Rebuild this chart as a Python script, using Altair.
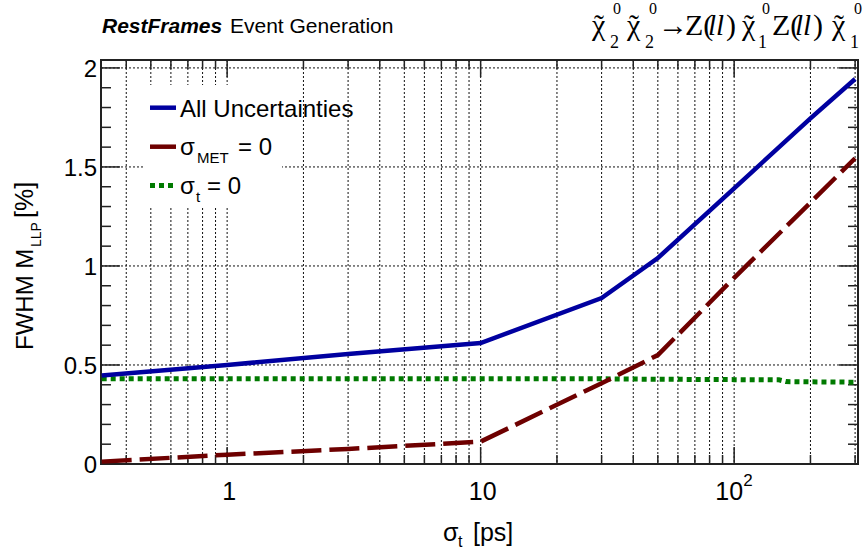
import altair as alt
import pandas as pd

# ---------------- data ----------------
x_all = [0.32, 1, 3, 10, 30, 50, 100, 200, 300]
y_all = [0.447, 0.500, 0.555, 0.611, 0.838, 1.040, 1.392, 1.745, 1.944]

x_met = [0.32, 1, 3, 10, 30, 50, 100, 200, 300]
y_met = [0.012, 0.047, 0.076, 0.113, 0.408, 0.550, 0.940, 1.320, 1.544]

x_t = [0.32, 1, 3, 10, 30, 50, 100, 150, 160, 200, 300]
y_t = [0.430, 0.430, 0.430, 0.430, 0.430, 0.428, 0.426, 0.425, 0.416, 0.415, 0.413]

x_grid = [0.4, 0.5, 0.6, 0.7, 0.8, 0.9, 1, 2, 3, 4, 5, 6, 7, 8, 9, 10,
          20, 30, 40, 50, 60, 70, 80, 90, 100, 200, 300]
x_major = [1, 10, 100]
x_minor = [v for v in x_grid if v not in x_major]
y_major = [0, 0.5, 1, 1.5, 2]
y_minor = [0.1, 0.2, 0.3, 0.4, 0.6, 0.7, 0.8, 0.9, 1.1, 1.2, 1.3, 1.4,
           1.6, 1.7, 1.8, 1.9]
y_grid = [0.5, 1, 1.5, 2]
y_labels = ["0", "0.5", "1", "1.5", "2"]

# ---------------- layout ----------------
W, H = 757, 404
SANS = "Liberation Sans"
SERIF = "Liberation Serif"
xs = alt.Scale(type="log", domain=[0.318, 308], nice=False)
ys = alt.Scale(domain=[0, 2.04], nice=False, zero=False)
X = lambda f="x": alt.X(f + ":Q", scale=xs, axis=None)
Y = lambda f="y": alt.Y(f + ":Q", scale=ys, axis=None)

one = pd.DataFrame({"a": [0]})


def txt(s, x, y, size=24, font=SANS, **kw):
    return alt.Chart(one).mark_text(
        text=s, font=font, fontSize=size, align=kw.pop("align", "left"),
        baseline=kw.pop("baseline", "alphabetic"), color=kw.pop("color", "black"), **kw
    ).encode(x=alt.value(x), y=alt.value(y))


layers = []

# grid
gx = pd.DataFrame({"x": x_grid})
gy = pd.DataFrame({"y": y_grid})
layers.append(alt.Chart(gx).mark_rule(color="#111", strokeWidth=1, strokeDash=[2, 2]).encode(
    x=X(), y=alt.value(0), y2=alt.value(H)))
layers.append(alt.Chart(gy).mark_rule(color="#111", strokeWidth=1, strokeDash=[2, 2]).encode(
    y=Y(), x=alt.value(0), x2=alt.value(W)))

# legend background box
layers.append(alt.Chart(one).mark_rect(color="white").encode(
    x=alt.value(44), x2=alt.value(181), y=alt.value(25), y2=alt.value(147)))

# ticks
def yticks(vals, ln):
    d = pd.DataFrame({"y": vals})
    return [alt.Chart(d).mark_rule(color="#222", strokeWidth=1.5).encode(
                y=Y(), x=alt.value(0), x2=alt.value(ln)),
            alt.Chart(d).mark_rule(color="#222", strokeWidth=1.5).encode(
                y=Y(), x=alt.value(W - ln), x2=alt.value(W))]


def xticks(vals, ln):
    d = pd.DataFrame({"x": vals})
    return [alt.Chart(d).mark_rule(color="#222", strokeWidth=1.5).encode(
                x=X(), y=alt.value(H - ln), y2=alt.value(H)),
            alt.Chart(d).mark_rule(color="#222", strokeWidth=1.5).encode(
                x=X(), y=alt.value(0), y2=alt.value(ln))]


layers += yticks(y_major, 19) + yticks(y_minor, 10)
layers += xticks(x_major, 17) + xticks(x_minor, 9)

# curves
BLUE, RED, GREEN = "#0000a0", "#6e0000", "#007a00"
d_all = pd.DataFrame({"x": x_all, "y": y_all})
d_met = pd.DataFrame({"x": x_met, "y": y_met})
d_t = pd.DataFrame({"x": x_t, "y": y_t})
layers.append(alt.Chart(d_t).mark_line(color=GREEN, strokeWidth=5, strokeDash=[5, 4]).encode(x=X(), y=Y()))
layers.append(alt.Chart(d_met).mark_line(color=RED, strokeWidth=4.5, strokeDash=[30, 8]).encode(x=X(), y=Y()))
layers.append(alt.Chart(d_all).mark_line(color=BLUE, strokeWidth=4.5).encode(x=X(), y=Y()))

# legend
layers.append(alt.Chart(one).mark_rule(color=BLUE, strokeWidth=4.5).encode(
    x=alt.value(49), x2=alt.value(75), y=alt.value(47.7)))
layers.append(alt.Chart(one).mark_rule(color=RED, strokeWidth=4.5).encode(
    x=alt.value(49), x2=alt.value(75), y=alt.value(86.7)))
layers.append(alt.Chart(one).mark_rule(color=GREEN, strokeWidth=5, strokeDash=[5, 4]).encode(
    x=alt.value(49), x2=alt.value(75), y=alt.value(125.5)))
layers.append(txt("All Uncertainties", 79, 57, 24))
layers.append(txt("σ", 79, 95, 24))
layers.append(txt("MET", 96, 103, 15))
layers.append(txt("= 0", 137, 95, 24))
layers.append(txt("σ", 79, 134, 24))
layers.append(txt("t", 95, 142, 15))
layers.append(txt("= 0", 106, 134, 24))

# y tick labels
dyl = pd.DataFrame({"y": y_major, "lab": y_labels})
layers.append(alt.Chart(dyl).mark_text(font=SANS, fontSize=24, align="right", baseline="middle", dy=2,
                                       color="black").encode(y=Y(), x=alt.value(-4), text="lab:N"))
# x tick labels
dxl = pd.DataFrame({"x": [1, 10], "lab": ["1", "10"]})
layers.append(alt.Chart(dxl).mark_text(font=SANS, fontSize=25, align="center", dx=2,
                                       baseline="alphabetic", color="black").encode(
    x=X(), y=alt.value(440), text="lab:N"))
dxh = pd.DataFrame({"x": [100], "lab": ["10"], "sup": ["2"]})
layers.append(alt.Chart(dxh).mark_text(font=SANS, fontSize=25, align="right", dx=9,
                                       baseline="alphabetic", color="black").encode(
    x=X(), y=alt.value(440), text="lab:N"))
layers.append(alt.Chart(dxh).mark_text(font=SANS, fontSize=17, align="left", dx=9,
                                       baseline="alphabetic", color="black").encode(
    x=X(), y=alt.value(426), text="sup:N"))

# axis titles
layers.append(txt("σ", 342, 481, 25))
layers.append(txt("t", 357, 487, 16))
layers.append(txt("[ps]", 372, 481, 25))
layers.append(txt("FWHM M", -68, 290, 24, angle=270))
layers.append(txt("LLP", -60, 187, 14, angle=270))
layers.append(txt("[%]", -68, 158, 25, angle=270))

# top titles
layers.append(txt("RestFrames", 1, -27, 21, fontStyle="italic", fontWeight="bold"))
layers.append(txt("Event Generation", 129, -27, 21))

pieces = [
    ("χ", 491, -25, 30), ("2", 509, -12, 18), ("0", 512, -46, 16),
    ("χ", 526, -25, 30), ("2", 544, -12, 18), ("0", 548, -46, 16),
    ("→", 557, -25, 30), ("Z(", 584, -25, 30), (")", 625, -25, 30),
    ("χ", 641, -25, 30), ("1", 657, -12, 18), ("0", 661, -46, 16),
    ("Z(", 671, -25, 30), (")", 712, -25, 30),
    ("χ", 731, -25, 30), ("1", 749, -12, 18), ("0", 753, -46, 16),
]
for s, px, py, sz in pieces:
    layers.append(txt(s, px, py, sz, font=SERIF))
for cx in [498, 533, 648, 738]:
    layers.append(txt("˜", cx, -25, 30, font=SERIF, align="center"))
layers.append(txt("ll", 607, -25, 29, font=SERIF, fontStyle="italic"))
layers.append(txt("ll", 694, -25, 29, font=SERIF, fontStyle="italic"))

chart = alt.layer(*layers).properties(
    width=W, height=H,
    autosize=alt.AutoSizeParams(type="none"),
    padding={"left": 101, "top": 60, "right": 6, "bottom": 85},
    background="white",
).configure_view(stroke="#222", strokeWidth=2)

chart.save("out.html", embed_options={"renderer": "svg", "actions": False})
